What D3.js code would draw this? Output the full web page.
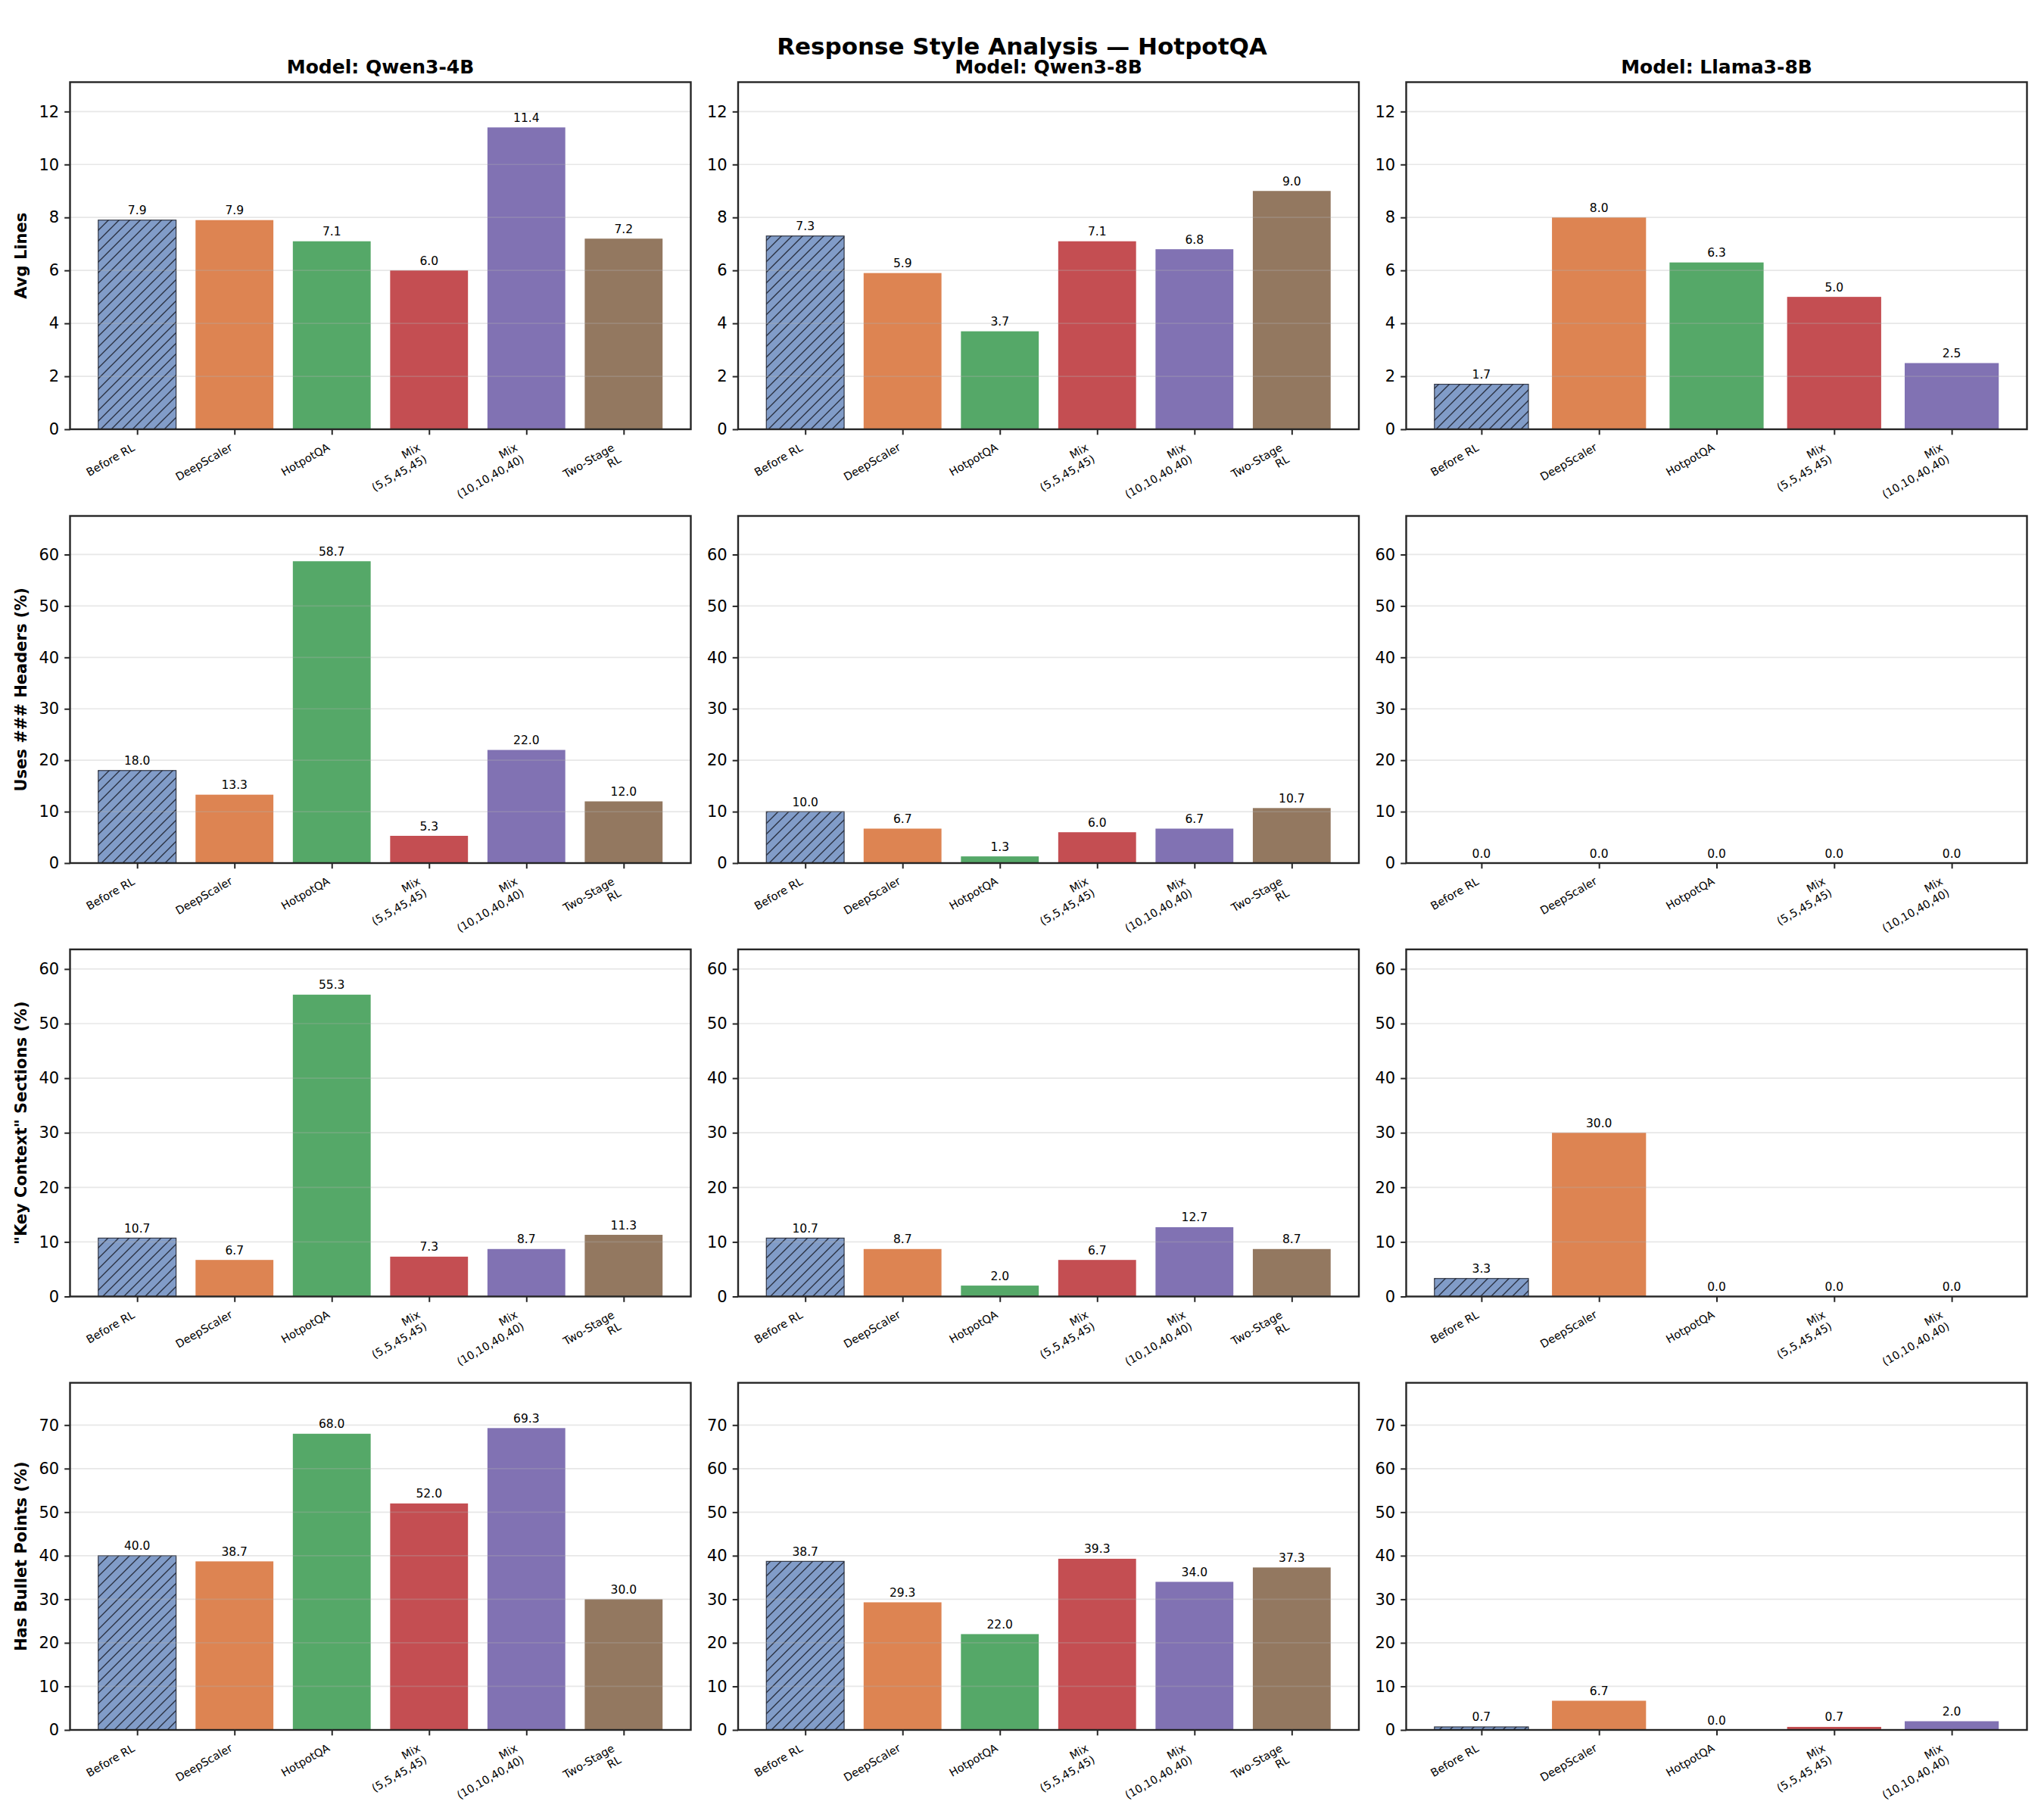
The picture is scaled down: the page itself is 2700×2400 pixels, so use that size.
<!DOCTYPE html>
<html>
<head>
<meta charset="utf-8">
<script src="https://cdn.jsdelivr.net/npm/d3@7"></script>
<style>
  body { margin: 0; background: #fff; }
  text { font-family: "DejaVu Sans", sans-serif; fill: #000; }
</style>
</head>
<body>
<div id="chart"></div>
<script>
const width = 2700;
const height = 2400;

// models (columns) and methods (bars)
const models = ["Qwen3-4B", "Qwen3-8B", "Llama3-8B"];
const methods = ["Before RL", "DeepScaler", "HotpotQA", "Mix\n(5,5,45,45)", "Mix\n(10,10,40,40)", "Two-Stage\nRL"];
const methodColors = ["#4C72B0", "#DD8452", "#55A868", "#C44E52", "#8172B3", "#937860"];

// metrics (rows)
const metricLabels = ["Avg Lines", "Uses ### Headers (%)", "\"Key Context\" Sections (%)", "Has Bullet Points (%)"];

// one array per model, bars in method order (Llama has no Two-Stage run)
const avgLines = [
    [7.9, 7.9, 7.1, 6.0, 11.4, 7.2],
    [7.3, 5.9, 3.7, 7.1, 6.8, 9.0],
    [1.7, 8.0, 6.3, 5.0, 2.5]
];
const usesHeaders = [
    [18.0, 13.3, 58.7, 5.3, 22.0, 12.0],
    [10.0, 6.7, 1.3, 6.0, 6.7, 10.7],
    [0.0, 0.0, 0.0, 0.0, 0.0]
];
const keyContext = [
    [10.7, 6.7, 55.3, 7.3, 8.7, 11.3],
    [10.7, 8.7, 2.0, 6.7, 12.7, 8.7],
    [3.3, 30.0, 0.0, 0.0, 0.0]
];
const bulletPoints = [
    [40.0, 38.7, 68.0, 52.0, 69.3, 30.0],
    [38.7, 29.3, 22.0, 39.3, 34.0, 37.3],
    [0.7, 6.7, 0.0, 0.7, 2.0]
];
const metricValues = [avgLines, usesHeaders, keyContext, bulletPoints];

// grid of axes
const colLeft = [92.5, 975, 1857.5];
const colW = 820;
const rowTop = [108.5, 681.5, 1254, 1826.5];
const rowH = 458.5;

const svg = d3.select("#chart")
    .append("svg")
    .attr("width", width)
    .attr("height", height)
    .style("background", "#fff");

// hatch for "Before RL"
const hs = 14;
svg.append("defs").append("pattern")
    .attr("id", "hatch")
    .attr("patternUnits", "userSpaceOnUse")
    .attr("width", hs)
    .attr("height", hs)
    .append("path")
    .attr("d", `M-2,2 L2,-2 M0,${hs} L${hs},0 M${hs - 2},${hs + 2} L${hs + 2},${hs - 2}`)
    .attr("stroke", "#1b1f2a")
    .attr("stroke-opacity", 0.85)
    .attr("stroke-width", 1.4);

svg.append("text")
    .attr("x", width / 2)
    .attr("y", 71.5)
    .attr("text-anchor", "middle")
    .style("font-size", "31px")
    .style("font-weight", "bold")
    .text("Response Style Analysis \u2014 HotpotQA");

const fmt = d3.format(".1f");

metricValues.forEach((rowVals, r) => {
    const ymax = d3.max(rowVals.flat()) * 1.15;

    rowVals.forEach((vals, c) => {
        const n = vals.length;
        const left = colLeft[c], top = rowTop[r];
        const span = n - 1 + 0.8;
        const m = 0.05 * span;

        const x = d3.scaleLinear()
            .domain([-0.4 - m, n - 1 + 0.4 + m])
            .range([left, left + colW]);
        const y = d3.scaleLinear()
            .domain([0, ymax])
            .range([top + rowH, top]);
        const bw = x(0.8) - x(0);

        const g = svg.append("g");

        // bars
        const bars = g.selectAll(".bar")
            .data(vals)
            .enter().append("g");

        bars.append("rect")
            .attr("x", (d, i) => x(i) - bw / 2)
            .attr("y", d => y(d))
            .attr("width", bw)
            .attr("height", d => y(0) - y(d))
            .attr("fill", (d, i) => methodColors[i])
            .attr("fill-opacity", (d, i) => i === 0 ? 0.7 : 1);

        bars.filter((d, i) => i === 0).append("rect")
            .attr("x", x(0) - bw / 2)
            .attr("y", d => y(d))
            .attr("width", bw)
            .attr("height", d => y(0) - y(d))
            .attr("fill", "url(#hatch)")
            .attr("stroke", "#1b1f2a")
            .attr("stroke-opacity", 0.85)
            .attr("stroke-width", 1.2);

        // grid on top of bars, light
        g.selectAll(".grid")
            .data(y.ticks(7))
            .enter().append("line")
            .attr("x1", left)
            .attr("x2", left + colW)
            .attr("y1", d => y(d))
            .attr("y2", d => y(d))
            .attr("stroke", "#b0b0b0")
            .attr("stroke-opacity", 0.3)
            .attr("stroke-width", 1.7);

        // value labels
        g.selectAll(".val")
            .data(vals)
            .enter().append("text")
            .attr("x", (d, i) => x(i))
            .attr("y", d => y(d) - 7.5)
            .attr("text-anchor", "middle")
            .style("font-size", "15.5px")
            .text(d => fmt(d));

        // y axis
        const yAxis = g.append("g")
            .attr("transform", `translate(${left},0)`)
            .call(d3.axisLeft(y).ticks(7).tickSize(7.3).tickPadding(7).tickSizeOuter(0));
        yAxis.select(".domain").remove();
        yAxis.selectAll(".tick line").attr("stroke", "#262626").attr("stroke-width", 2);
        yAxis.selectAll(".tick text")
            .style("font-size", "21px")
            .style("font-family", "DejaVu Sans, sans-serif")
            .attr("fill", "#000");

        // x axis ticks, labels drawn by hand (rotated, multi-line)
        const xAxis = g.append("g")
            .attr("transform", `translate(0,${top + rowH})`)
            .call(d3.axisBottom(x).tickValues(d3.range(n)).tickSize(7.3).tickFormat(""));
        xAxis.select(".domain").remove();
        xAxis.selectAll(".tick line").attr("stroke", "#262626").attr("stroke-width", 2);

        d3.range(n).forEach(i => {
            const outer = g.append("g");
            const inner = outer.append("g").attr("transform", "rotate(-30)");
            const t = inner.append("text")
                .attr("text-anchor", "end")
                .style("font-size", "14.6px");
            methods[i].split("\n").forEach((line, k) => {
                t.append("tspan")
                    .attr("x", 0)
                    .attr("dy", k === 0 ? 0 : "1.2em")
                    .text(line);
            });
            const bb = outer.node().getBBox();
            const tx = x(i) - (bb.x + bb.width);
            const ty = top + rowH + 14.6 - bb.y;
            outer.attr("transform", `translate(${tx},${ty})`);
        });

        // spines
        g.append("rect")
            .attr("x", left)
            .attr("y", top)
            .attr("width", colW)
            .attr("height", rowH)
            .attr("fill", "none")
            .attr("stroke", "#262626")
            .attr("stroke-width", 2.4);

        if (r === 0) {
            g.append("text")
                .attr("x", left + colW / 2)
                .attr("y", top - 12)
                .attr("text-anchor", "middle")
                .style("font-size", "25px")
                .style("font-weight", "bold")
                .text("Model: " + models[c]);
        }

        if (c === 0) {
            g.append("text")
                .attr("transform", `translate(35,${top + rowH / 2}) rotate(-90)`)
                .attr("text-anchor", "middle")
                .style("font-size", "21px")
                .style("font-weight", "bold")
                .text(metricLabels[r]);
        }
    });
});
</script>
</body>
</html>
